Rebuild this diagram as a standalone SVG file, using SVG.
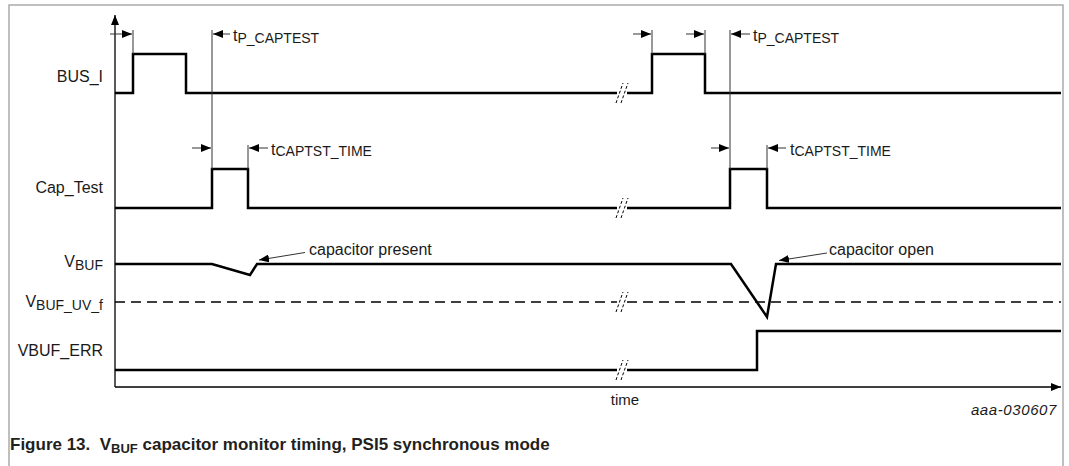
<svg xmlns="http://www.w3.org/2000/svg" width="1069" height="466" viewBox="0 0 1069 466">
<style>
text{font-family:"Liberation Sans",Arial,sans-serif;fill:#1a1a1a}
.lbl{font-size:16px}
.sub{font-size:14px}
.sig{fill:none;stroke:#000;stroke-width:2.5;stroke-linejoin:miter}
.ax{fill:none;stroke:#000;stroke-width:1.3}
.dim{fill:none;stroke:#333;stroke-width:1}
.brk{fill:none;stroke:#000;stroke-width:1;stroke-dasharray:3 2}
.dash{fill:none;stroke:#000;stroke-width:1.3;stroke-dasharray:10 6}
</style>
<defs>
<marker id="ah" viewBox="0 0 10 8" refX="10" refY="4" markerWidth="10" markerHeight="8" markerUnits="userSpaceOnUse" orient="auto"><path d="M0,0 L10,4 L0,8 z" fill="#000"/></marker>
<marker id="axh" viewBox="0 0 10 8" refX="10" refY="4" markerWidth="10" markerHeight="8" markerUnits="userSpaceOnUse" orient="auto"><path d="M0,0 L10,4 L0,8 z" fill="#000"/></marker>
</defs>
<rect width="1069" height="466" fill="#fff"/>
<path d="M9,466 V5 H1063 V466" fill="none" stroke="#aaa" stroke-width="1.5"/>

<g id="axes">
<path class="ax" d="M115,387 V15" marker-end="url(#axh)"/>
<path class="ax" d="M115,387 H1061" marker-end="url(#axh)"/>
<text class="lbl" x="625" y="405" text-anchor="middle" style="font-size:15px">time</text>
</g>

<g id="bus_i">
<text class="lbl" x="103" y="82" text-anchor="end">BUS_I</text>
<path class="sig" d="M115,93 H133 V54 H186 V93 H617"/>
<path class="sig" d="M627,93 H652 V54 H705 V93 H1061"/>
<path class="brk" d="M616,103 L623,83 M621,103 L628,83"/>
</g>

<g id="cap_test">
<text class="lbl" x="103" y="193" text-anchor="end">Cap_Test</text>
<path class="sig" d="M115,208 H212 V169 H248 V208 H617"/>
<path class="sig" d="M627,208 H730 V169 H767 V208 H1061"/>
<path class="brk" d="M616,218 L623,198 M621,218 L628,198"/>
</g>

<g id="vbuf">
<text class="lbl" x="103" y="267" text-anchor="end">V<tspan class="sub" dy="3">BUF</tspan></text>
<path class="sig" d="M115,264 H212 L250,275 L257,264 H731 L767,317 L776,264 H1061"/>
</g>

<g id="vbuf_uv">
<text class="lbl" x="103" y="307" text-anchor="end">V<tspan class="sub" dy="3">BUF_UV_f</tspan></text>
<path class="dash" d="M115,302 H617"/>
<path class="dash" d="M627,302 H1061"/>
<path class="brk" d="M616,312 L623,292 M621,312 L628,292"/>
</g>

<g id="vbuf_err">
<text class="lbl" x="103" y="356" text-anchor="end">VBUF_ERR</text>
<path class="sig" d="M115,370 H617"/>
<path class="sig" d="M627,370 H757 V331 H1061"/>
<path class="brk" d="M616,380 L623,360 M621,380 L628,360"/>
</g>

<g id="connectors">
<path class="dim" d="M133,30 V54"/>
<path class="dim" d="M110,34 H132" marker-end="url(#ah)"/>
<path class="dim" d="M212,30 V169"/>
<path class="dim" d="M230,34 H213" marker-end="url(#ah)"/>
<path class="dim" d="M652,30 V54"/>
<path class="dim" d="M633,34 H651" marker-end="url(#ah)"/>
<path class="dim" d="M705,30 V54"/>
<path class="dim" d="M686,34 H704" marker-end="url(#ah)"/>
<path class="dim" d="M730,30 V169"/>
<path class="dim" d="M750,34 H731" marker-end="url(#ah)"/>
<path class="dim" d="M192,148 H211" marker-end="url(#ah)"/>
<path class="dim" d="M248,145 V169"/>
<path class="dim" d="M268,148 H249" marker-end="url(#ah)"/>
<path class="dim" d="M711,148 H729" marker-end="url(#ah)"/>
<path class="dim" d="M767,145 V169"/>
<path class="dim" d="M786,148 H768" marker-end="url(#ah)"/>
<path class="dim" d="M305,252.5 L259,260" marker-end="url(#ah)"/>
<path class="dim" d="M827,253 L779,260.5" marker-end="url(#ah)"/>
</g>

<g id="labels">
<text class="lbl" x="233" y="41">t<tspan class="sub" dy="1.5">P_CAPTEST</tspan></text>
<text class="lbl" x="753" y="41">t<tspan class="sub" dy="1.5">P_CAPTEST</tspan></text>
<text class="lbl" x="271" y="154.5">t<tspan class="sub" dy="1.5">CAPTST_TIME</tspan></text>
<text class="lbl" x="790" y="154.5">t<tspan class="sub" dy="1.5">CAPTST_TIME</tspan></text>
<text class="lbl" x="309" y="255">capacitor present</text>
<text class="lbl" x="829" y="255">capacitor open</text>
<text x="1057" y="415" text-anchor="end" style="font-size:15px;font-style:italic;letter-spacing:0.6px">aaa-030607</text>
</g>

<g id="caption">
<text x="10" y="450" xml:space="preserve" style="font-size:17px;font-weight:bold;fill:#231f20">Figure 13.  V<tspan dy="3" style="font-size:13px">BUF</tspan><tspan dy="-3"> capacitor monitor timing, PSI5 synchronous mode</tspan></text>
</g>
</svg>
